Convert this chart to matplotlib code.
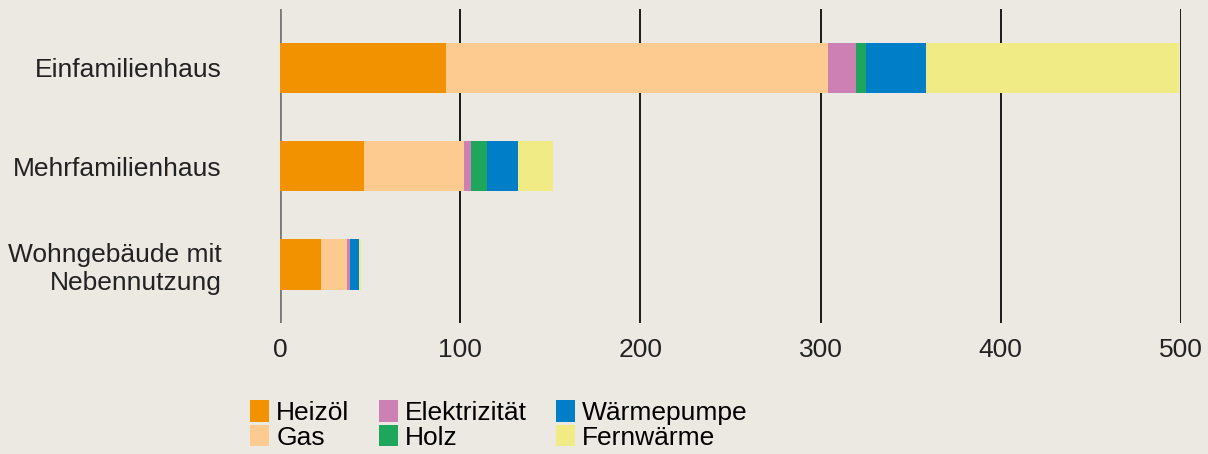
import numpy as np
import matplotlib
matplotlib.use('Agg')
import matplotlib.pyplot as plt
from matplotlib.patches import Patch

plt.rcParams['font.family'] = ['Liberation Sans', 'DejaVu Sans']

# ==================== Daten ====================
categories = ['Einfamilienhaus', 'Mehrfamilienhaus', 'Wohngebäude mit\nNebennutzung']
series = ['Heizöl', 'Gas', 'Elektrizität', 'Holz', 'Wärmepumpe', 'Fernwärme']

heizoel = [92, 46.5, 22.8]
gas = [212, 55.5, 14.4]
elektrizitaet = [15.5, 4, 1.6]
holz = [5.5, 9, 0.3]
waermepumpe = [33.5, 17, 4.5]
fernwaerme = [140.5, 19.5, 1.1]

values = [heizoel, gas, elektrizitaet, holz, waermepumpe, fernwaerme]
colors = ['#f39200', '#fdca8f', '#cd80b4', '#1ea75c', '#007fc8', '#f1eb85']
xticks = [0, 100, 200, 300, 400, 500]

BG = '#ece9e3'
FS = 19

# ==================== Plot ====================
fig = plt.figure(figsize=(12.08, 4.54), dpi=100, facecolor=BG)
ax = fig.add_axes([280 / 1208, 1 - 323 / 454, 901 / 1208, 314 / 454])
ax.set_facecolor(BG)

y = np.arange(len(categories))
left = np.zeros(len(categories))
for vals, col, name in zip(values, colors, series):
    ax.barh(y, vals, left=left, height=0.51, color=col, label=name, zorder=3)
    left += np.array(vals)

ax.set_xlim(0, 500)
ax.set_ylim(2.595, -0.6)
ax.set_xticks(xticks)
ax.set_yticks(y)
ax.set_yticklabels(categories, fontsize=FS, color='#222222')
ax.tick_params(axis='both', length=0, labelsize=FS, labelcolor='#222222')
ax.tick_params(axis='x', pad=11)
ax.tick_params(axis='y', pad=42)
for lab in ax.get_yticklabels():
    lab.set_horizontalalignment('right')
    lab.set_multialignment('right')

for s in ax.spines.values():
    s.set_visible(False)

ax.grid(axis='x', color='#1a1a1a', linewidth=1.4, zorder=0)
ax.grid(axis='y', visible=False)
ax.get_xgridlines()[0].set_color('#7a7a7a')
ax.get_xgridlines()[0].set_linewidth(2)

handles = [Patch(facecolor=c, edgecolor='none') for c in colors]
fig.legend(handles, series, ncol=3, loc='upper left',
           bbox_to_anchor=(250 / 1208, 1 - 400 / 454),
           frameon=False, fontsize=FS, handlelength=0.72, handleheight=0.88,
           handletextpad=0.27, columnspacing=1.11, labelspacing=0.0,
           borderpad=0, borderaxespad=0)

fig.savefig('out.png', dpi=100, facecolor=BG)
